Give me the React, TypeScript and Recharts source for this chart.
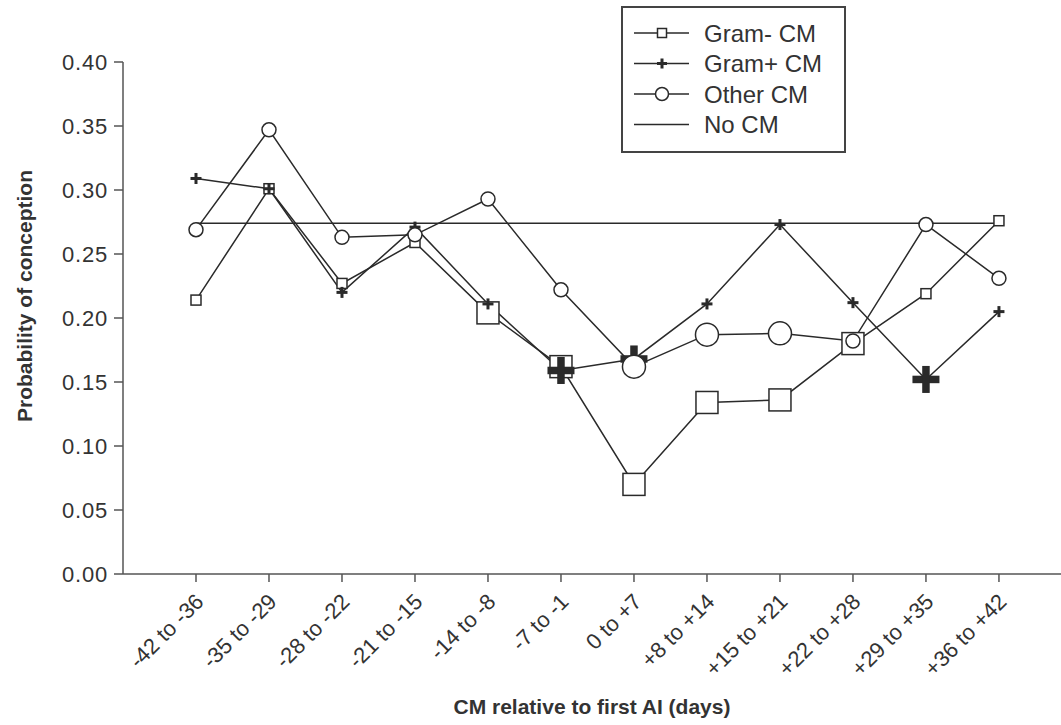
import React from 'react';
import { LineChart, Line, XAxis, YAxis, Legend } from 'recharts';

const categories = ['-42 to -36', '-35 to -29', '-28 to -22', '-21 to -15', '-14 to -8', '-7 to -1', '0 to +7', '+8 to +14', '+15 to +21', '+22 to +28', '+29 to +35', '+36 to +42'];
const gramNeg = [0.214, 0.301, 0.227, 0.259, 0.204, 0.162, 0.070, 0.134, 0.136, 0.180, 0.219, 0.276];
const gramPos = [0.309, 0.301, 0.220, 0.271, 0.211, 0.159, 0.168, 0.211, 0.273, 0.212, 0.152, 0.205];
const other = [0.269, 0.347, 0.263, 0.265, 0.293, 0.222, 0.162, 0.187, 0.188, 0.182, 0.273, 0.231];
const noCM = 0.274;
// 1 = highlighted (large marker)
const gramNegLarge = [0, 0, 0, 0, 1, 1, 1, 1, 1, 1, 0, 0];
const gramPosLarge = [0, 0, 0, 0, 0, 1, 1, 0, 0, 0, 1, 0];
const otherLarge = [0, 0, 0, 0, 0, 0, 1, 1, 1, 0, 0, 0];
const yTicks = [0, 0.05, 0.1, 0.15, 0.2, 0.25, 0.3, 0.35, 0.4];

const data = categories.map((c, i) => ({
  x: i + 1,
  cat: c,
  gramNeg: gramNeg[i],
  gramPos: gramPos[i],
  other: other[i],
  noCM,
}));

const INK = '#2a2a2a';
const FONT = 'Liberation Sans, Arial, Helvetica, sans-serif';

const Square = ({ cx, cy, s }: any) => (
  <rect x={cx - s / 2} y={cy - s / 2} width={s} height={s} fill="#fff" stroke={INK} strokeWidth={1.5} />
);
const Plus = ({ cx, cy, s, t }: any) => (
  <g fill={INK}>
    <rect x={cx - s / 2} y={cy - t / 2} width={s} height={t} />
    <rect x={cx - t / 2} y={cy - s / 2} width={t} height={s} />
  </g>
);
const Circ = ({ cx, cy, r }: any) => (
  <circle cx={cx} cy={cy} r={r} fill="#fff" stroke={INK} strokeWidth={1.5} />
);

const makeDot = (kind: string, flags: number[]) => (props: any) => {
  const { cx, cy, index } = props;
  const big = flags[index] === 1;
  const key = `${kind}-${index}`;
  if (cx == null || cy == null) return <g key={key} />;
  if (kind === 'sq') return <g key={key}><Square cx={cx} cy={cy} s={big ? 22 : 10} /></g>;
  if (kind === 'plus') return <g key={key}><Plus cx={cx} cy={cy} s={big ? 27 : 11} t={big ? 7.5 : 3} /></g>;
  return <g key={key}><Circ cx={cx} cy={cy} r={big ? 11.5 : 7} /></g>;
};

const XTick = (props: any) => {
  const { x, y, payload } = props;
  const lbl = categories[payload.value - 1] ?? '';
  const ax = x + 9;
  const ay = y + 19;
  return (
    <text x={ax} y={ay} textAnchor="end" fontSize={22} fill="#333" fontFamily={FONT} transform={`rotate(-45, ${ax}, ${ay})`}>
      {lbl}
    </text>
  );
};

const legendItems = [
  { name: 'Gram- CM', kind: 'sq' },
  { name: 'Gram+ CM', kind: 'plus' },
  { name: 'Other CM', kind: 'circ' },
  { name: 'No CM', kind: 'none' },
];

const renderLegend = () => (
  <svg width={226} height={148} style={{ display: 'block' }}>
    <rect x={1} y={1} width={223} height={145} fill="#fff" stroke="#444" strokeWidth={2} />
    {legendItems.map((it, i) => {
      const cy = 27 + i * 30.5;
      return (
        <g key={it.name}>
          <line x1={13} x2={68} y1={cy} y2={cy} stroke={INK} strokeWidth={1.5} />
          {it.kind === 'sq' && <Square cx={41} cy={cy} s={9} />}
          {it.kind === 'plus' && <Plus cx={41} cy={cy} s={10} t={3} />}
          {it.kind === 'circ' && <Circ cx={41} cy={cy} r={6.5} />}
          <text x={83} y={cy + 8.5} fontSize={24} fill="#333" fontFamily={FONT}>{it.name}</text>
        </g>
      );
    })}
  </svg>
);

export default function App() {
  return (
    <div style={{ position: 'absolute', left: 0, top: 0, background: '#fff' }}>
      <LineChart width={1061} height={725} data={data} margin={{ top: 62, right: 0, bottom: 0, left: 0 }}>
        <XAxis
          dataKey="x"
          type="number"
          domain={[0, 12.85]}
          ticks={[1, 2, 3, 4, 5, 6, 7, 8, 9, 10, 11, 12]}
          interval={0}
          height={151}
          tickSize={8}
          stroke="#555"
          strokeWidth={1.5}
          tick={<XTick />}
          label={{
            content: () => (
              <text x={592} y={714} textAnchor="middle" fontSize={21} fontWeight="bold" fill="#333" fontFamily={FONT}>
                CM relative to first AI (days)
              </text>
            ),
          }}
        />
        <YAxis
          type="number"
          domain={[0, 0.4]}
          ticks={yTicks}
          interval={0}
          width={123}
          tickSize={9}
          tickMargin={6}
          stroke="#555"
          strokeWidth={1.5}
          tickFormatter={(v: number) => v.toFixed(2)}
          tick={{ fontSize: 22, fill: '#333', fontFamily: FONT, letterSpacing: 0.8 }}
          label={{
            content: () => (
              <text x={32} y={296} textAnchor="middle" fontSize={21} fontWeight="bold" fill="#333" fontFamily={FONT} transform="rotate(-90, 32, 296)">
                Probability of conception
              </text>
            ),
          }}
        />
        <Legend layout="vertical" align="center" verticalAlign="middle" content={renderLegend} wrapperStyle={{ position: 'absolute', left: 621, top: 6, width: 226, height: 148 }} />
        <Line dataKey="noCM" name="No CM" stroke={INK} strokeWidth={1.5} dot={false} isAnimationActive={false} />
        <Line dataKey="gramNeg" name="Gram- CM" stroke={INK} strokeWidth={1.5} dot={makeDot('sq', gramNegLarge)} activeDot={false} isAnimationActive={false} />
        <Line dataKey="gramPos" name="Gram+ CM" stroke={INK} strokeWidth={1.5} dot={makeDot('plus', gramPosLarge)} activeDot={false} isAnimationActive={false} />
        <Line dataKey="other" name="Other CM" stroke={INK} strokeWidth={1.5} dot={makeDot('circ', otherLarge)} activeDot={false} isAnimationActive={false} />
      </LineChart>
    </div>
  );
}
